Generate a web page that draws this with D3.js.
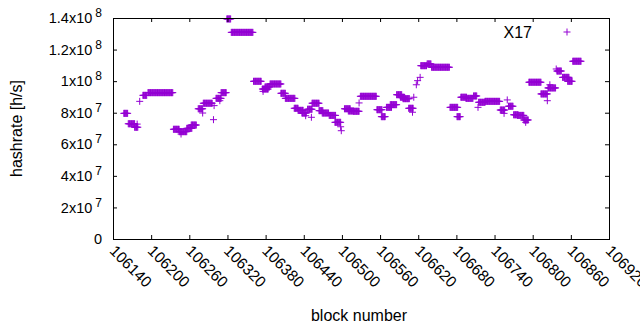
<!DOCTYPE html>
<html lang="en">
<head>
<meta charset="UTF-8">
<title>Hashrate by block</title>
<script src="https://d3js.org/d3.v7.min.js"></script>
<style>
  body { margin: 0; background: #fff; }
  svg { font-family: "Liberation Sans", Arial, sans-serif; }
</style>
</head>
<body>
<svg width="640" height="330"></svg>
<script>
// runs of equal hashrate: first block, last block, value (h/s)
const runStart = [106157, 106164, 106174, 106178, 106182, 106187, 106195, 106235, 106244, 106247, 106256, 106263,
  106274, 106281, 106282, 106298, 106299, 106302, 106308, 106310, 106319, 106326, 106361, 106375, 106376, 106379,
  106387, 106404, 106411, 106425, 106431, 106437, 106443, 106446, 106452, 106453, 106464, 106469, 106480, 106489,
  106498, 106499, 106504, 106510, 106518, 106527, 106529, 106555, 106562, 106570, 106576, 106586, 106592, 106596,
  106605, 106611, 106613, 106617, 106619, 106623, 106624, 106634, 106641, 106670, 106681, 106687, 106695, 106707,
  106714, 106715, 106725, 106749, 106755, 106760, 106762, 106770, 106776, 106786, 106789, 106794, 106813, 106823,
  106824, 106827, 106837, 106838, 106847, 106855, 106863];
const runEnd = [106163, 106174, 106179, 106178, 106182, 106193, 106234, 106244, 106256, 106247, 106264, 106271,
  106281, 106281, 106296, 106298, 106299, 106310, 106308, 106318, 106325, 106360, 106373, 106384, 106376, 106386,
  106404, 106411, 106426, 106431, 106439, 106444, 106443, 106453, 106452, 106464, 106470, 106479, 106490, 106498,
  106498, 106499, 106513, 106518, 106527, 106527, 106554, 106563, 106568, 106578, 106586, 106594, 106598, 106606,
  106612, 106611, 106613, 106617, 106619, 106623, 106633, 106640, 106669, 106682, 106686, 106696, 106706, 106712,
  106714, 106725, 106748, 106756, 106755, 106760, 106769, 106777, 106786, 106793, 106789, 106813, 106823, 106823,
  106836, 106827, 106837, 106845, 106857, 106862, 106876];
const runValue = [7.96e7, 7.30e7, 7.08e7, 7.28e7, 8.72e7, 9.10e7, 9.27e7, 6.95e7, 6.80e7, 6.65e7, 7.01e7, 7.22e7,
  8.25e7, 7.98e7, 8.60e7, 7.56e7, 8.45e7, 8.91e7, 8.76e7, 9.27e7, 13.94e7, 13.09e7, 9.99e7, 9.50e7, 9.35e7, 9.63e7,
  9.82e7, 9.23e7, 8.91e7, 8.28e7, 8.15e7, 7.98e7, 7.81e7, 8.22e7, 7.71e7, 8.60e7, 8.13e7, 7.98e7, 7.83e7, 7.39e7,
  7.11e7, 6.86e7, 8.25e7, 8.11e7, 8.09e7, 8.62e7, 9.04e7, 8.19e7, 7.75e7, 8.34e7, 8.51e7, 9.14e7, 8.98e7, 8.89e7,
  8.28e7, 8.03e7, 8.98e7, 9.77e7, 10.03e7, 10.24e7, 10.98e7, 11.09e7, 10.88e7, 8.34e7, 7.75e7, 8.98e7, 8.91e7, 9.06e7,
  8.34e7, 8.66e7, 8.72e7, 8.17e7, 7.96e7, 8.81e7, 8.41e7, 7.87e7, 7.83e7, 7.54e7, 7.39e7, 9.93e7, 9.19e7, 8.76e7,
  9.57e7, 9.77e7, 10.77e7, 10.64e7, 10.24e7, 9.99e7, 11.26e7];

const xTicks = [106140, 106200, 106260, 106320, 106380, 106440, 106500, 106560, 106620, 106680, 106740, 106800, 106860, 106920];
const yTicks = [0, 2e7, 4e7, 6e7, 8e7, 1e8, 1.2e8, 1.4e8];
const yTickBase = ["0", "2x10", "4x10", "6x10", "8x10", "1x10", "1.2x10", "1.4x10"];
const yTickExp = ["", "7", "7", "7", "7", "8", "8", "8"];
const seriesName = "X17";

const svg = d3.select("svg");
const color = "#9400d3";
const margin = { top: 18, right: 31, bottom: 91, left: 113 };
const width = 640, height = 330;
const plotLeft = margin.left, plotRight = width - margin.right;
const plotTop = margin.top, plotBottom = height - margin.bottom;

const x = d3.scaleLinear().domain([106140, 106920]).range([plotLeft, plotRight]);
const y = d3.scaleLinear().domain([0, 1.4e8]).range([plotBottom, plotTop]);

// one point per block inside each run
const points = [];
runStart.forEach((s, i) => {
  for (let b = s; b <= runEnd[i]; b++) points.push({ block: b, value: runValue[i] });
});

const plus = "M-3.5,0H3.5M0,-3.5V3.5";

svg.append("g")
  .selectAll("path")
  .data(points)
  .join("path")
  .attr("d", plus)
  .attr("transform", d => `translate(${x(d.block)},${y(d.value)})`)
  .attr("fill", "none")
  .attr("stroke", color)
  .attr("stroke-width", 1);

// axes, ticks pointing inward on all four sides
const gx = svg.append("g")
  .attr("transform", `translate(0,${plotBottom})`)
  .call(d3.axisBottom(x).tickValues(xTicks).tickSizeInner(-4).tickSizeOuter(0).tickFormat(d3.format("d")));
gx.select(".domain").remove();
gx.selectAll("text")
  .attr("y", null).attr("dy", "0.35em")
  .attr("text-anchor", "start")
  .attr("transform", "translate(-1,9) rotate(45)")
  .attr("font-size", 15.5)
  .attr("fill", "#000");

const gt = svg.append("g")
  .attr("transform", `translate(0,${plotTop})`)
  .call(d3.axisTop(x).tickValues(xTicks).tickSizeInner(-4).tickSizeOuter(0).tickFormat(""));
gt.select(".domain").remove();

const gy = svg.append("g")
  .attr("transform", `translate(${plotLeft},0)`)
  .call(d3.axisLeft(y).tickValues(yTicks).tickSizeInner(-4).tickSizeOuter(0));
gy.select(".domain").remove();
gy.selectAll("text")
  .attr("x", -11)
  .attr("font-size", 14.5)
  .attr("fill", "#000")
  .each(function (d, i) {
    const t = d3.select(this).text(null);
    t.append("tspan").text(yTickBase[i]);
    if (yTickExp[i]) {
      t.append("tspan").attr("dx", 3).attr("dy", -6).attr("font-size", 12).text(yTickExp[i]);
    }
  });

const gr = svg.append("g")
  .attr("transform", `translate(${plotRight},0)`)
  .call(d3.axisRight(y).tickValues(yTicks).tickSizeInner(-4).tickSizeOuter(0).tickFormat(""));
gr.select(".domain").remove();

svg.selectAll(".tick line").attr("stroke", "#000");
svg.selectAll(".tick text").attr("font-family", "Liberation Sans, Arial, sans-serif");

svg.append("rect")
  .attr("x", plotLeft + 0.5).attr("y", plotTop + 0.5)
  .attr("width", plotRight - plotLeft).attr("height", plotBottom - plotTop)
  .attr("fill", "none").attr("stroke", "#000").attr("stroke-width", 1);

// axis titles
svg.append("text")
  .attr("x", 359).attr("y", 321)
  .attr("text-anchor", "middle")
  .attr("font-size", 16)
  .text("block number");

svg.append("text")
  .attr("transform", `translate(22,${(plotTop + plotBottom) / 2}) rotate(-90)`)
  .attr("text-anchor", "middle")
  .attr("font-size", 16)
  .text("hashrate [h/s]");

// key
svg.append("text")
  .attr("x", 532).attr("y", 32).attr("dy", "0.35em")
  .attr("text-anchor", "end")
  .attr("font-size", 16)
  .text(seriesName);
svg.append("path")
  .attr("d", plus)
  .attr("transform", "translate(567,32)")
  .attr("fill", "none")
  .attr("stroke", color)
  .attr("stroke-width", 1);
</script>
</body>
</html>
